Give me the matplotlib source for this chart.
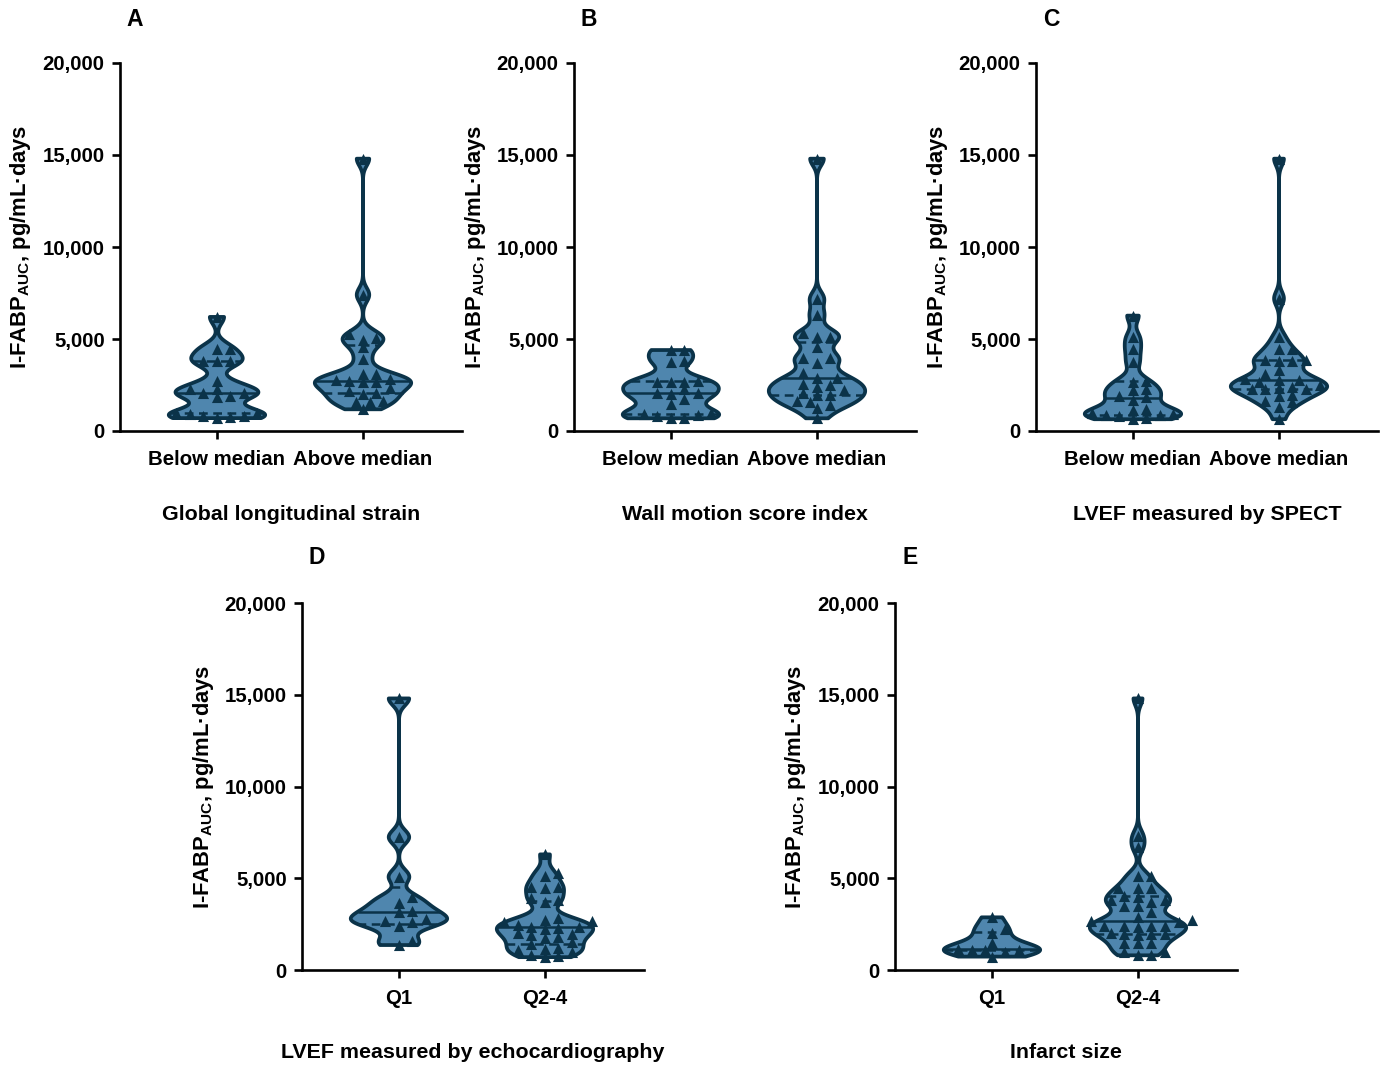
import numpy as np
import matplotlib
matplotlib.use('Agg')
import matplotlib.pyplot as plt
from matplotlib.ticker import FuncFormatter

plt.rcParams['font.family'] = ['Liberation Sans', 'DejaVu Sans']
plt.rcParams['font.weight'] = 'bold'
plt.rcParams['mathtext.fontset'] = 'custom'
plt.rcParams['mathtext.rm'] = 'Liberation Sans:bold'
plt.rcParams['mathtext.it'] = 'Liberation Sans:bold'
plt.rcParams['mathtext.bf'] = 'Liberation Sans:bold'

# ---------------- data ----------------
panel_letters = ['A', 'B', 'C', 'D', 'E']
panel_titles = ['Global longitudinal strain', 'Wall motion score index',
                'LVEF measured by SPECT', 'LVEF measured by echocardiography',
                'Infarct size']
labels_median = ['Below median', 'Above median']
labels_quart = ['Q1', 'Q2-4']
y_ticks = [0, 5000, 10000, 15000, 20000]
y_label = 'I-FABP$_{\\mathrm{AUC}}$, pg/mL\u00b7days'

A_below = [700, 750, 800, 820, 950, 1000, 1000, 1850, 1900, 2090, 2090, 2270, 2270,
           2700, 3800, 3800, 3800, 4450, 4450, 6200]
A_above = [1180, 1550, 1550, 1640, 2000, 2090, 2180, 2350, 2650, 2650, 2700, 2750,
           2800, 3100, 3100, 3900, 4550, 4960, 5050, 5270, 7400, 14800]
B_below = [690, 730, 820, 880, 900, 1000, 1450, 1730, 2000, 2040, 2060, 2270, 2640,
           2690, 2690, 2720, 3750, 3800, 4400, 4400]
B_above = [690, 1230, 1410, 1600, 1630, 1960, 1960, 2060, 2230, 2400, 2500, 2560, 2860,
           2880, 3130, 3700, 3950, 3950, 4550, 5130, 5130, 5300, 6300, 7200, 14800]
C_below = [640, 730, 800, 850, 870, 945, 1000, 1130, 1180, 1700, 1860, 1910, 2220,
           2270, 2640, 2730, 3730, 4450, 5090, 6270]
C_above = [640, 1300, 1550, 1640, 1910, 1960, 2260, 2270, 2270, 2320, 2400, 2500, 2640,
           2770, 2770, 2820, 3100, 3300, 3800, 3800, 3850, 3850, 4450, 4450, 5100, 7200,
           14800]
D_q1 = [1360, 1600, 2400, 2640, 2690, 2760, 3180, 3200, 3670, 3960, 5090, 7240, 14800]
D_q24 = [700, 750, 800, 1000, 1100, 1150, 1200, 1400, 1500, 1750, 1800, 1900, 1950,
         2000, 2250, 2300, 2350, 2350, 2450, 2600, 2650, 2700, 2850, 3700, 3800, 3900,
         4450, 4500, 4550, 5100, 5300, 6300]
E_q1 = [730, 1000, 1090, 1100, 1110, 1130, 1450, 2040, 2250, 2870]
E_q24 = [800, 800, 1000, 1000, 1450, 1450, 1450, 1900, 1950, 1950, 1950, 2000, 2350,
         2400, 2400, 2400, 2400, 2630, 2650, 2700, 2900, 3150, 3500, 3500, 3700, 3800,
         3800, 4000, 4050, 4450, 4450, 4450, 5100, 5100, 6700, 7300, 14800]

panel_groups = [[A_below, A_above], [B_below, B_above], [C_below, C_above],
                [D_q1, D_q24], [E_q1, E_q24]]
panel_labels = [labels_median, labels_median, labels_median, labels_quart, labels_quart]

# ---------------- style / layout ----------------
W, H = 1381, 1065
FILL = '#4f86ae'
EDGE = '#0b3349'
BW = 380.0          # KDE bandwidth (data units)
HALF_W = 0.33       # max violin half width (category units)
XPX = 146.0         # px per category unit
YPX = 368.0 / 20000.0

# axes boxes in pixels: left, top, right, bottom
boxes = [(120, 63, 462, 431), (574, 63, 916, 431), (1036, 63, 1378, 431),
         (302, 603, 644, 970), (895, 603, 1237, 970)]

fig = plt.figure(figsize=(W / 100, H / 100), dpi=100)


def kde(vals, grid, bw):
    z = (grid[:, None] - vals[None, :]) / bw
    return np.exp(-0.5 * z ** 2).sum(axis=1)


def swarm(vals, dx_min=13.5, dy_min=7.5, step=6.75):
    order = np.argsort(vals, kind='stable')
    placed = []
    offs = np.zeros(len(vals))
    cands = [0.0]
    for k in range(1, 40):
        cands += [k * step, -k * step]
    for i in order:
        y = vals[i] * YPX
        chosen = 0.0
        for cx in cands:
            ok = True
            for px, py in placed:
                if ((cx - px) / dx_min) ** 2 + ((y - py) / dy_min) ** 2 < 1.0:
                    ok = False
                    break
            if ok:
                chosen = cx
                break
        placed.append((chosen, y))
        offs[i] = chosen / XPX
    return offs


fmt = FuncFormatter(lambda v, p: '{:,.0f}'.format(v))

for k, (box, groups, labs) in enumerate(zip(boxes, panel_groups, panel_labels)):
    l, t, r, b = box
    ax = fig.add_axes([l / W, 1 - b / H, (r - l) / W, (b - t) / H])
    for c, vals in enumerate(groups):
        v = np.asarray(vals, dtype=float)
        grid = np.linspace(v.min(), v.max(), 500)
        d = kde(v, grid, BW)
        hw = d / d.max() * HALF_W
        xs = np.concatenate([c + hw, (c - hw)[::-1]])
        ys = np.concatenate([grid, grid[::-1]])
        ax.fill(xs, ys, facecolor=FILL, edgecolor=EDGE, linewidth=2.7,
                joinstyle='round', zorder=2)
        q1, med, q3 = np.percentile(v, [25, 50, 75], method='weibull')
        for q, ls in [(q1, (0, (3.5, 2.2))), (med, '-'), (q3, (0, (3.5, 2.2)))]:
            w = np.interp(q, grid, hw)
            ax.plot([c - w, c + w], [q, q], color=EDGE, lw=1.8, ls=ls, zorder=3,
                    solid_capstyle='butt')
        offs = swarm(v)
        ax.scatter(c + offs, v, marker='^', s=64, color=EDGE, linewidths=0,
                   zorder=4, clip_on=False)

    ax.set_xlim(-0.664, 1.678)
    ax.set_ylim(0, 20000)
    ax.set_yticks(y_ticks)
    ax.yaxis.set_major_formatter(fmt)
    ax.set_xticks([0, 1])
    ax.set_xticklabels(labs)
    for s in ['top', 'right']:
        ax.spines[s].set_visible(False)
    for s in ['left', 'bottom']:
        ax.spines[s].set_linewidth(1.9)
        ax.spines[s].set_color('black')
    ax.tick_params(axis='both', length=6, width=1.9, labelsize=14.7, pad=5)
    ax.tick_params(axis='x', pad=8)
    for lab in ax.get_xticklabels() + ax.get_yticklabels():
        lab.set_fontweight('bold')

    # y label (about 99 px left of the y axis)
    ax.text(-99.0 / (r - l), 0.5, y_label, transform=ax.transAxes,
            rotation=90, ha='center', va='center', fontsize=15.8, fontweight='bold')
    # panel letter
    ly = 20 if b < 500 else 558
    fig.text((l + 15) / W, 1 - ly / H, panel_letters[k], ha='center', va='center',
             fontsize=16.5, fontweight='bold')
    # panel title
    ty = 514 if b < 500 else 1053
    fig.text(((l + r) / 2) / W, 1 - ty / H, panel_titles[k], ha='center', va='center',
             fontsize=15.4, fontweight='bold')

fig.savefig('out.png', dpi=100)
